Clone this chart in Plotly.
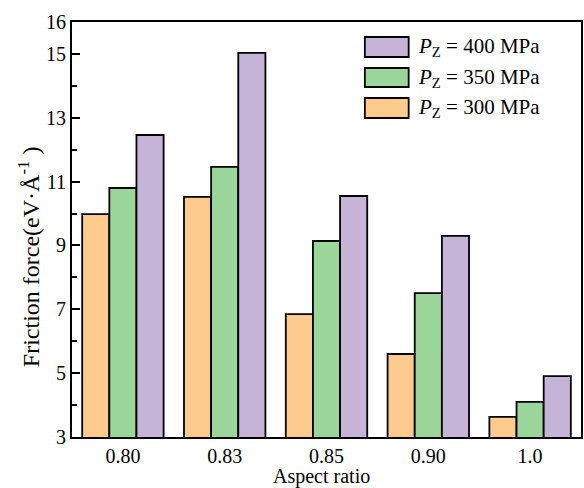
import plotly.graph_objects as go

categories = ["0.80", "0.83", "0.85", "0.90", "1.0"]
p300 = [9.98, 10.52, 6.85, 5.60, 3.63]
p350 = [10.80, 11.46, 9.14, 7.51, 4.10]
p400 = [12.46, 15.03, 10.55, 9.30, 4.91]
series_names = ["<i>P</i><sub>Z</sub> = 300 MPa", "<i>P</i><sub>Z</sub> = 350 MPa", "<i>P</i><sub>Z</sub> = 400 MPa"]
series_values = [p300, p350, p400]
colors = ["#FECB8F", "#9AD69A", "#C5B4D8"]
y_ticks = [3, 5, 7, 9, 11, 13, 15, 16]
y_minor = [4, 6, 8, 10, 12, 14]

FONT = "Liberation Serif"

fig = go.Figure()
for name, vals, col in zip(series_names, series_values, colors):
    fig.add_trace(go.Bar(x=categories, y=vals, name=name, marker=dict(color=col, line=dict(color="black", width=1.8)),
                         showlegend=False))

# custom legend (wide swatches) in paper coordinates, top entry = last series
W, H = 584, 488
ml, mr, mt, mb = 72, 1, 22, 51
pw, ph = W - ml - mr, H - mt - mb
def px(x):
    return (x - ml) / pw
def py(y):
    return (H - mb - y) / ph

shapes = []
annotations = []
legend_rows = [(37, 57), (68, 87), (98, 118)]
for i, (top, bot) in enumerate(legend_rows):
    idx = len(series_names) - 1 - i
    shapes.append(dict(type="rect", xref="paper", yref="paper", x0=px(366), x1=px(410), y0=py(bot), y1=py(top),
                       fillcolor=colors[idx], line=dict(color="black", width=1.8)))
    annotations.append(dict(xref="paper", yref="paper", x=px(417), y=py((top + bot) / 2), text=series_names[idx],
                            showarrow=False, xanchor="left", yanchor="middle", font=dict(family=FONT, size=21, color="black")))

annotations.append(dict(xref="paper", yref="paper", x=px(29), y=py(257), text="Friction force(eV·Å<sup>-1</sup> )",
                        textangle=-90, showarrow=False, xanchor="center", yanchor="middle",
                        font=dict(family=FONT, size=24, color="black")))
annotations.append(dict(xref="paper", yref="paper", x=px(322), y=py(476), text="Aspect ratio",
                        showarrow=False, xanchor="center", yanchor="middle", borderpad=0,
                        font=dict(family=FONT, size=20, color="black")))

fig.update_layout(
    width=W, height=H,
    margin=dict(l=ml, r=mr, t=mt, b=mb),
    paper_bgcolor="white", plot_bgcolor="white",
    barmode="group", bargap=0.2, bargroupgap=0,
    font=dict(family=FONT, size=20, color="black"),
    shapes=shapes, annotations=annotations,
)
fig.update_xaxes(showline=True, linecolor="black", linewidth=1.8, mirror=True, ticks="", showgrid=False,
                 tickfont=dict(family=FONT, size=20))
fig.update_yaxes(range=[3, 16], tickvals=y_ticks, ticks="inside", ticklen=8, tickwidth=1.5, tickcolor="black",
                 showline=True, linecolor="black", linewidth=1.8, mirror=True, showgrid=False, zeroline=False,
                 minor=dict(tickvals=y_minor, ticks="inside", ticklen=5, tickwidth=1.5, tickcolor="black"),
                 tickfont=dict(family=FONT, size=20))

fig.write_html("out.html", config={"displayModeBar": False},
               post_script="document.body.style.margin='0';document.body.style.overflow='hidden';")
